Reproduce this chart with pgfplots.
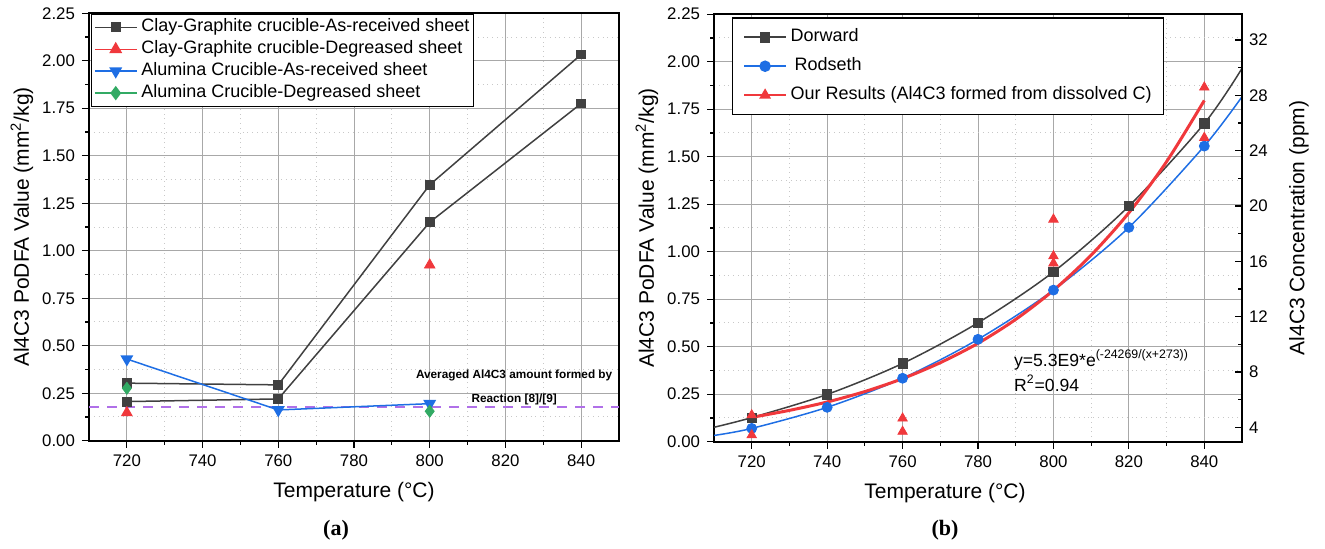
\documentclass[border=0pt]{standalone}
\usepackage{fontspec}
\setmainfont{Liberation Sans}
\newfontfamily\captionserif{Liberation Serif}
\usepackage{pgfplots}
\pgfplotsset{compat=1.18}

\definecolor{sqgray}{RGB}{64,64,64}
\definecolor{trired}{RGB}{240,56,60}
\definecolor{triblue}{RGB}{30,110,228}
\definecolor{dmgreen}{RGB}{50,170,100}
\definecolor{avgpurple}{RGB}{176,112,232}
\definecolor{gridgray}{RGB}{168,168,168}
\definecolor{mgridgray}{RGB}{200,200,200}

\pgfplotsset{
  panel/.style={
    scale only axis,
    xmin=710,xmax=850,xtick={720,740,760,780,800,820,840},minor x tick num=1,
    ymin=0,ymax=2.25,ytick={0,0.25,0.5,0.75,1,1.25,1.5,1.75,2,2.25},minor y tick num=1,
    grid=both,
    major grid style={gridgray,line width=0.5pt},
    minor grid style={mgridgray,dotted,line width=0.5pt},
    axis line style={black,line width=1pt},
    tick pos=left,tick align=outside,
    major tick length=3.5pt,minor tick length=2pt,
    tick style={black,line width=0.6pt},
    ticklabel style={font=\fontsize{8.4}{10}\selectfont},
    /pgf/number format/assume math mode=true,
    yticklabel style={/pgf/number format/.cd,fixed,fixed zerofill,precision=2},
    label style={font=\fontsize{10.5}{12}\selectfont},
    legend cell align=left,
    legend image code/.code={%
      \draw[mark repeat=2,mark phase=2,##1] plot coordinates {(0pt,0pt) (10.4pt,0pt) (20.8pt,0pt)};},
  },
  legbox/.style={draw=black,line width=0.6pt,fill=white,
    font=\fontsize{9}{10.5}\selectfont,
    nodes={inner sep=0.5pt,text height=6.5pt,text depth=2pt},
    /tikz/every odd column/.append style={column sep=1.5pt}},
}

\begin{document}
\begin{tikzpicture}
\useasboundingbox (0,0) rectangle (662.5pt,-274pt);

% ---------- (a) ----------
\begin{axis}[panel,
  at={(44.5pt,-6.65pt)},anchor=north west,width=265pt,height=213.7pt,
  xlabel={Temperature (°C)},
  ylabel={Al4C3 PoDFA Value (mm\textsuperscript{2}/kg)},
  xlabel style={at={(axis description cs:0.5,-0.12)},anchor=center},
  ylabel style={at={(axis description cs:-0.1264,0.5)},anchor=center},
  legend style={legbox,at={(axis description cs:0.003,1)},anchor=north west,
    inner xsep=1.5pt,inner ysep=2pt,row sep=1.45pt}]

\addplot[avgpurple,dashed,line width=1.2pt,dash pattern=on 5pt off 4pt,forget plot]
  coordinates {(710,0.176) (850,0.176)};

\addlegendimage{sqgray,line width=0.75pt,mark=square*,mark size=2.1pt}
\addlegendentry{Clay-Graphite crucible-As-received sheet}
\addlegendimage{trired,line width=0.75pt,mark=triangle*,mark size=3pt}
\addlegendentry{Clay-Graphite crucible-Degreased sheet}
\addlegendimage{triblue,line width=0.75pt,mark=triangle*,mark size=3pt,mark options={rotate=180}}
\addlegendentry{Alumina Crucible-As-received sheet}
\addlegendimage{dmgreen,line width=0.75pt,mark=diamond*,mark size=3pt}
\addlegendentry{Alumina Crucible-Degreased sheet}

\addplot[sqgray,line width=0.75pt,mark=square*,mark size=2.1pt,forget plot]
  coordinates {(720,0.303) (760,0.294) (800,1.347) (840,2.033)};
\addplot[sqgray,line width=0.75pt,mark=square*,mark size=2.1pt,forget plot]
  coordinates {(720,0.206) (760,0.220) (800,1.150) (840,1.775)};
\addplot[triblue,line width=0.75pt,mark=triangle*,mark size=3pt,mark options={rotate=180},forget plot]
  coordinates {(720,0.430) (760,0.162) (800,0.195)};
\addplot[dmgreen,only marks,mark=diamond*,mark size=3pt,forget plot]
  coordinates {(720,0.276) (800,0.155)};
\addplot[trired,only marks,mark=triangle*,mark size=3pt,forget plot]
  coordinates {(720,0.148) (800,0.925)};

\node[font=\fontsize{5.9}{7}\selectfont\bfseries] at (axis cs:822.3,0.342) {Averaged Al4C3 amount formed by};
\node[font=\fontsize{5.9}{7}\selectfont\bfseries] at (axis cs:822.3,0.218) {Reaction [8]/[9]};
\end{axis}

% ---------- (b) ----------
\begin{axis}[panel,
  at={(357pt,-7.1pt)},anchor=north west,width=264pt,height=213.75pt,
  xlabel={Temperature (°C)},
  ylabel={Al4C3 PoDFA Value (mm\textsuperscript{2}/kg)},
  xlabel style={at={(axis description cs:0.4375,-0.12)},anchor=center},
  ylabel style={at={(axis description cs:-0.1269,0.5)},anchor=center},
  legend style={legbox,at={(axis description cs:0.034,0.9927)},anchor=north west,
    inner xsep=5.5pt,inner ysep=4.9pt,row sep=5pt}]

\addlegendimage{sqgray,line width=0.75pt,mark=square*,mark size=2.3pt}
\addlegendentry{Dorward}
\addlegendimage{triblue,line width=0.75pt,mark=*,mark size=2.5pt}
\addlegendentry{\hspace{2pt}Rodseth}
\addlegendimage{trired,line width=0.75pt,mark=triangle*,mark size=2.7pt}
\addlegendentry{Our Results (Al4C3 formed from dissolved C)}

% Dorward
\addplot[sqgray,line width=0.75pt,smooth,forget plot]
  coordinates {(710,0.076) (720,0.127) (740,0.249) (760,0.412) (780,0.626)
               (800,0.894) (820,1.240) (840,1.675) (850,1.965)};
\addplot[sqgray,only marks,mark=square*,mark size=2.3pt,forget plot]
  coordinates {(720,0.127) (740,0.249) (760,0.412) (780,0.626)
               (800,0.894) (820,1.240) (840,1.675)};
% Rodseth
\addplot[triblue,line width=0.75pt,smooth,forget plot]
  coordinates {(710,0.033) (720,0.070) (740,0.181) (760,0.334) (780,0.539)
               (800,0.798) (820,1.128) (840,1.556) (850,1.816)};
\addplot[triblue,only marks,mark=*,mark size=2.5pt,forget plot]
  coordinates {(720,0.070) (740,0.181) (760,0.334) (780,0.539)
               (800,0.798) (820,1.128) (840,1.556)};
% our results
\addplot[trired,only marks,mark=triangle*,mark size=2.7pt,forget plot]
  coordinates {(720,0.140) (720,0.035) (760,0.123) (760,0.053)
               (800,1.170) (800,0.977) (800,0.939) (840,1.865) (840,1.600)};
\addplot[trired,line width=1.5pt,smooth,forget plot]
  coordinates {(720,0.128) (730,0.165) (740,0.209) (750,0.264) (760,0.332)
               (770,0.416) (780,0.518) (790,0.644) (800,0.797) (810,0.982)
               (820,1.205) (830,1.474) (840,1.796)};

\node[anchor=west,font=\fontsize{8.8}{10}\selectfont] at (axis cs:787.7,0.43)
  {y=5.3E9*e\textsuperscript{(-24269/(x+273))}};
\node[anchor=west,font=\fontsize{8.8}{10}\selectfont] at (axis cs:787.7,0.307)
  {R\textsuperscript{2}=0.94};
\end{axis}

% right-hand ppm scale of (b)
\begin{axis}[
  scale only axis,
  at={(357pt,-7.1pt)},anchor=north west,width=264pt,height=213.75pt,
  xmin=710,xmax=850,ymin=2.96,ymax=33.87,
  axis x line=none,axis y line*=right,
  axis line style={black,line width=1pt},
  ytick={4,8,12,16,20,24,28,32},minor y tick num=1,
  tick align=inside,major tick length=3.5pt,minor tick length=2pt,
  tick style={black,line width=0.6pt},
  ticklabel style={font=\fontsize{8.4}{10}\selectfont},
  /pgf/number format/assume math mode=true,
  ylabel={Al4C3 Concentration (ppm)},
  label style={font=\fontsize{10.5}{12}\selectfont},
  ylabel style={at={(axis description cs:1.108,0.5)},anchor=center}]
\addplot[draw=none] coordinates {(710,4)};
\end{axis}

\node[font=\captionserif\fontsize{11}{13}\selectfont\bfseries] at (168pt,-265pt) {(a)};
\node[font=\captionserif\fontsize{11}{13}\selectfont\bfseries] at (472.5pt,-265pt) {(b)};
\end{tikzpicture}
\end{document}
